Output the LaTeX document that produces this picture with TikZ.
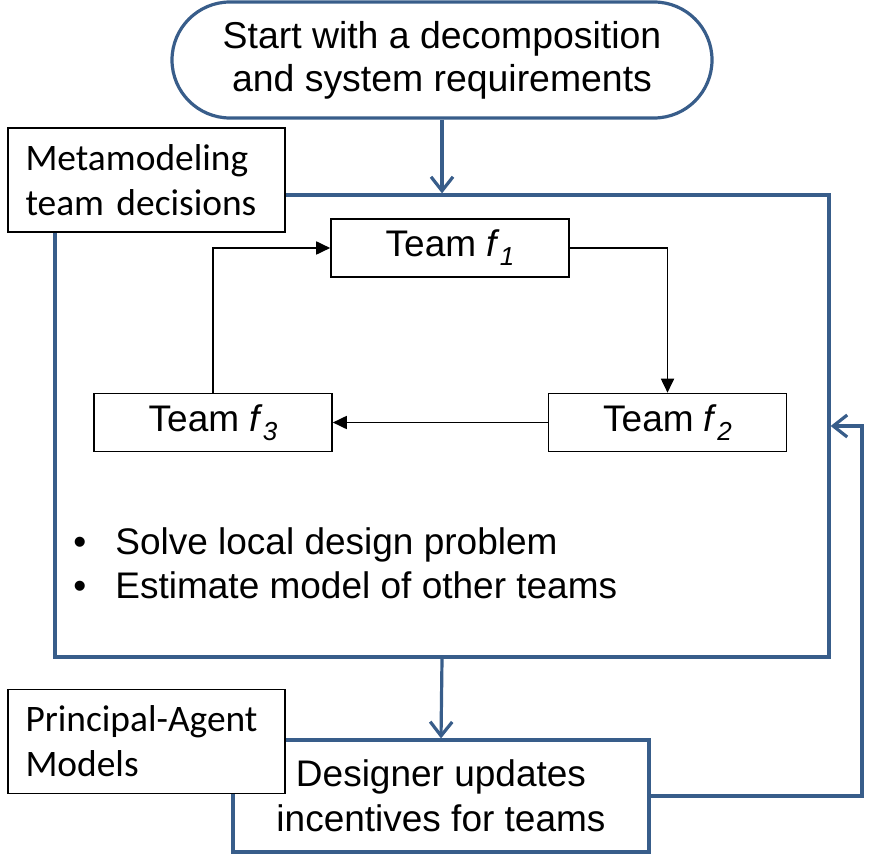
\documentclass[tikz,border=0pt]{standalone}
\usepackage{fontspec}
\setmainfont{Liberation Sans}
\newfontfamily\labelfont{Carlito}
\usetikzlibrary{arrows.meta,positioning}
\definecolor{frameblue}{RGB}{56,93,138}
\newcommand{\teamsub}[1]{\textit{f}\raisebox{-4.5pt}{\fontsize{13pt}{13pt}\selectfont\textit{#1}}}

\begin{document}
\begin{tikzpicture}[x=0.5pt,y=-0.5pt,
  bigtext/.style={font=\fontsize{18.5pt}{22pt}\selectfont},
  bluebox/.style={draw=frameblue,line width=1.6pt,inner sep=0pt},
  teambox/.style={draw,line width=0.8pt,fill=white,minimum width=119pt,minimum height=29pt,inner sep=0pt,bigtext},
  labelbox/.style={draw,line width=0.8pt,fill=white,minimum width=138.5pt,minimum height=52pt,
    text width=121pt,inner xsep=8.75pt,align=left,font=\labelfont\fontsize{18.7pt}{22.5pt}\selectfont},
  bluearrow/.style={draw=frameblue,line width=1.6pt,-{Straight Barb[length=7pt,width=11pt]}},
  blkarrow/.style={line width=0.9pt,-{Triangle[length=7pt,width=6.5pt]}}]
\useasboundingbox (0,0) rectangle (870,865);

% Starting point
\node[bluebox,rounded corners=29pt,minimum width=270pt,minimum height=58pt,
  align=center,font=\fontsize{18.7pt}{21.5pt}\selectfont] (start) at (442,60)
  {Start with a decomposition\\and system requirements};

% Team level loop
\node[bluebox,minimum width=387pt,minimum height=231pt] (meta) at (442,426) {};
\node[labelbox] (metalabel) at (146.5,180) {Metamodeling\\team decisions};

\node[teambox] (f1) at (450,248) {Team \teamsub{1}};
\node[teambox] (f2) at (667.5,422.5) {Team \teamsub{2}};
\node[teambox] (f3) at (213,422.5) {Team \teamsub{3}};

\draw[blkarrow] (f3.north) |- (f1.west);
\draw[blkarrow] (f1.east) -| (f2.north);
\draw[blkarrow] (f2.west) -- (f3.east);

\node[bigtext,align=left,anchor=west,inner sep=0pt] (tasks) at (73,563)
  {\makebox[21pt][l]{\textbullet}Solve local design problem\\
   \makebox[21pt][l]{\textbullet}Estimate model of other teams};

% System level update
\node[bluebox,minimum width=208pt,minimum height=56pt,align=center,
  font=\fontsize{18.5pt}{22.5pt}\selectfont] (designer) at (441,796)
  {Designer updates\\incentives for teams};
\node[labelbox] (palabel) at (146.5,741.5) {Principal-Agent\\Models};

\coordinate (feedback) at (862,796);
\draw[bluearrow] (start.south) -- (meta.north);
\draw[bluearrow] (meta.south) -- (designer.north);
\draw[bluearrow] (designer.east) -- (feedback) |- (meta.east);
\end{tikzpicture}
\end{document}
